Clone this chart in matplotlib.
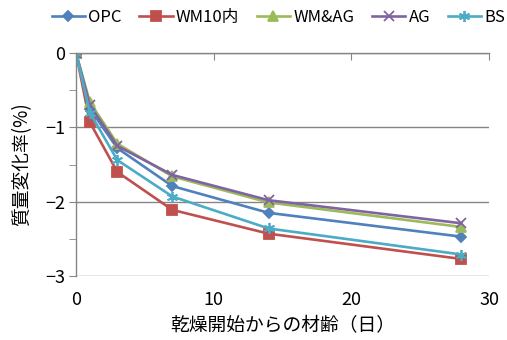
import matplotlib
matplotlib.use("Agg")
from matplotlib import pyplot as plt
from matplotlib.ticker import MultipleLocator

plt.rcParams['font.family'] = ['Noto Sans CJK JP', 'DejaVu Sans']

# drying age (days) and mass change (%)
days = [0, 1, 3, 7, 14, 28]
opc = [0, -0.75, -1.28, -1.79, -2.15, -2.47]
wm10 = [0, -0.93, -1.60, -2.11, -2.43, -2.77]
wm_ag = [0, -0.66, -1.22, -1.66, -2.01, -2.34]
ag = [0, -0.70, -1.25, -1.64, -1.98, -2.29]
bs = [0, -0.80, -1.44, -1.93, -2.36, -2.71]

series = [
    ("OPC", opc, "#4F81BD", "D", 5),
    ("WM10内", wm10, "#C0504D", "s", 6.5),
    ("WM&AG", wm_ag, "#9BBB59", "^", 6.5),
    ("AG", ag, "#8064A2", "x", 7),
    ("BS", bs, "#4BACC6", (6, 2, 0), 8),
]

fig = plt.figure(figsize=(5.07, 3.40), dpi=100)
ax = fig.add_axes([0.150, 0.188, 0.8145, 0.656])

for name, vals, color, marker, ms in series:
    ax.plot(days, vals, color=color, marker=marker, markersize=ms, linewidth=1.9,
            markeredgewidth=1.3, label=name)

ax.set_xlim(0, 30)
ax.set_ylim(-3, 0)
ax.xaxis.set_major_locator(MultipleLocator(10))
ax.yaxis.set_major_locator(MultipleLocator(1))
ax.yaxis.set_minor_locator(MultipleLocator(0.5))

grey = "#868686"
ax.yaxis.grid(True, color=grey, linewidth=1.0)
ax.set_axisbelow(True)
for side in ("right", "bottom"):
    ax.spines[side].set_visible(False)
for side in ("left", "top"):
    ax.spines[side].set_color(grey)
    ax.spines[side].set_linewidth(1.0)

# x-axis line sits at y=0 (top), labels stay at the bottom
ax.tick_params(axis='x', top=True, bottom=False, labeltop=False, labelbottom=True,
               direction='in', length=5, color=grey, labelsize=13, pad=11)
ax.tick_params(axis='y', which='major', length=5, color=grey, labelsize=13, pad=3)
ax.tick_params(axis='y', which='minor', length=5, color=grey)

ax.set_xlabel("乾燥開始からの材齢（日）", fontsize=13.5, labelpad=4)
ax.set_ylabel("質量変化率(%)", fontsize=13.5, labelpad=9)

ax.legend(loc='lower center', bbox_to_anchor=(0.49, 1.09), ncol=5, frameon=False,
          fontsize=12, handlelength=2.0, handletextpad=0.2, columnspacing=1.05,
          borderaxespad=0)

fig.savefig("out.png", dpi=100)
